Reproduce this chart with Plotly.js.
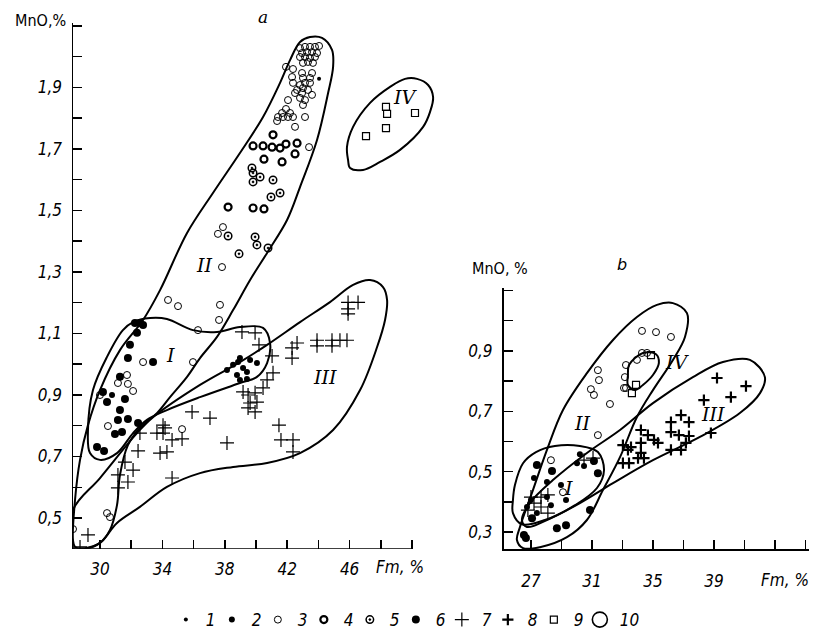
<!DOCTYPE html>
<html><head><meta charset="utf-8">
<script src="https://cdn.plot.ly/plotly-3.0.1.min.js"></script>
</head><body style="margin:0;background:#fff">
<div id="chart" style="width:817px;height:634px"></div>
<script>
// ---------- Panel a data (Fm, % ; MnO, %) ----------
const a1x = [44.04];
const a1y = [1.928];
const a2x = [30.77,38.14,38.53,38.85,39.17,39.42,38.78,38.97,39.42,40.06,38.97,39.62];
const a2y = [0.900,0.981,0.998,1.007,0.988,0.975,0.965,0.949,0.952,1.004,1.020,1.014];
const a3x = [42.82,43.14,43.46,43.78,44.04,42.95,43.27,43.59,43.91,42.82,43.14,43.46,43.78,43.01,43.33,43.65,41.92,42.37,42.95,43.59,42.31,43.01,43.46,42.37,42.82,43.14,43.46,42.63,43.01,43.33,42.50,42.95,43.59,42.82,43.14,43.01,42.05,41.92,41.67,42.18,41.41,41.73,42.05,42.37,41.35,43.14,42.50,43.40,
             37.82,34.36,35.00,37.69,37.63,36.28,35.96,32.76,31.73,31.79,32.12,31.15,30.51,35.26,30.00,30.45,30.64,28.27,37.88,37.56];
const a3y = [2.028,2.032,2.032,2.032,2.035,2.012,2.015,2.015,2.012,1.999,1.999,1.996,1.999,1.980,1.983,1.980,1.967,1.960,1.947,1.947,1.934,1.931,1.931,1.915,1.908,1.915,1.915,1.892,1.898,1.892,1.882,1.882,1.876,1.866,1.859,1.843,1.859,1.830,1.817,1.817,1.804,1.804,1.804,1.804,1.791,1.804,1.772,1.706,
             1.316,1.209,1.189,1.193,1.144,1.111,1.007,1.007,0.965,0.936,0.913,0.939,0.799,0.789,0.900,0.516,0.503,0.464,1.446,1.424];
const a4x = [41.09,39.81,40.45,41.03,41.54,41.92,42.63,42.50,40.51,41.67,39.81,40.51,38.21];
const a4y = [1.746,1.710,1.710,1.706,1.703,1.716,1.719,1.684,1.667,1.658,1.508,1.505,1.511];
const a5x = [39.74,39.81,40.26,39.81,41.09,41.54,40.96,38.21,39.94,40.06,40.77,38.91];
const a5y = [1.638,1.622,1.609,1.593,1.599,1.557,1.544,1.417,1.414,1.388,1.378,1.359];
const a6x = [32.24,32.56,32.76,32.37,31.92,31.79,33.40,31.28,31.60,30.19,30.45,31.28,31.15,31.79,30.96,31.41,32.44,29.81,30.26];
const a6y = [1.134,1.134,1.128,1.102,1.063,1.020,1.007,0.959,0.887,0.910,0.877,0.851,0.819,0.822,0.773,0.780,0.809,0.731,0.718];
const a7x = [45.90,45.90,46.54,45.90,42.63,43.91,43.91,44.87,44.87,45.38,45.83,42.31,42.31,40.19,41.03,41.09,40.71,40.45,39.10,39.94,39.17,39.49,39.94,39.62,40.06,39.49,39.94,35.90,37.05,34.04,34.17,33.65,34.04,34.62,35.26,33.85,34.29,38.14,41.47,41.60,42.37,42.37,34.62,32.56,32.44,31.60,32.12,31.15,31.79,31.15,29.23,28.72];
const a7y = [1.201,1.164,1.201,1.180,1.069,1.078,1.060,1.078,1.060,1.078,1.078,1.053,1.020,1.063,1.027,0.972,0.949,0.923,1.105,1.102,0.910,0.900,0.907,0.874,0.877,0.858,0.845,0.845,0.825,0.802,0.793,0.776,0.776,0.754,0.757,0.711,0.715,0.744,0.802,0.754,0.754,0.715,0.630,0.776,0.718,0.682,0.656,0.640,0.617,0.598,0.445,0.406];
const a9x = [47.05,48.33,48.40,48.33,50.19];
const a9y = [1.742,1.837,1.814,1.768,1.817];

// contours (panel a)
const aIIx = [28.27,28.40,28.72,29.23,30.00,31.28,32.76,33.85,35.58,37.24,38.97,40.45,41.54,42.18,42.82,43.46,44.23,44.87,44.94,44.62,43.91,42.82,41.99,40.71,39.62,38.53,37.50,36.41,35.58,34.49,33.65,32.56,31.79,31.28,31.09,30.64,30.00,29.04,28.40,28.27];
const aIIy = [0.428,0.559,0.689,0.802,0.916,1.046,1.144,1.241,1.427,1.557,1.687,1.804,1.915,1.989,2.048,2.064,2.061,2.022,1.967,1.882,1.729,1.576,1.469,1.362,1.274,1.176,1.089,1.020,0.959,0.893,0.841,0.793,0.737,0.640,0.542,0.461,0.419,0.402,0.406,0.428];
const aIx = [32.12,33.21,34.29,35.96,37.50,38.97,40.45,40.90,40.71,40.06,38.97,36.41,34.29,33.01,32.12,31.09,30.00,29.36,29.23,29.55,30.45,31.47,32.12];
const aIy = [1.137,1.150,1.147,1.111,1.105,1.121,1.118,1.069,1.004,0.959,0.939,0.893,0.851,0.819,0.776,0.711,0.689,0.711,0.786,0.916,1.024,1.111,1.137];
const aIIIx = [28.27,30.00,32.37,33.40,36.41,38.97,40.71,42.82,44.74,46.22,47.31,48.14,48.40,48.27,47.76,46.67,44.94,42.82,40.71,38.53,36.41,34.29,32.56,31.09,30.00,29.04,28.27,28.27];
const aIIIy = [0.526,0.630,0.776,0.828,0.933,1.007,1.063,1.137,1.202,1.258,1.274,1.251,1.209,1.144,1.056,0.916,0.786,0.711,0.679,0.666,0.646,0.601,0.536,0.484,0.419,0.399,0.402,0.526];
const aIVx = [45.90,45.83,46.22,47.31,48.59,49.55,50.32,51.03,51.35,51.15,50.71,49.23,47.95,46.86,46.03,45.90];
const aIVy = [1.664,1.707,1.772,1.850,1.902,1.928,1.928,1.908,1.869,1.820,1.772,1.697,1.658,1.632,1.638,1.664];

// ---------- Panel b data ----------
const b2x = [27.20,30.21,30.48,30.02,28.05,29.30,28.97,28.05,28.31,27.00,26.74,27.39];
const b2y = [0.479,0.558,0.519,0.528,0.466,0.406,0.456,0.416,0.389,0.406,0.383,0.363];
const b3x = [34.28,35.20,36.18,31.39,31.46,30.93,31.13,32.18,31.39,33.23,33.16,33.23,33.95,34.28,34.61,33.10,28.31,29.10];
const b3y = [0.966,0.962,0.946,0.836,0.803,0.773,0.754,0.724,0.621,0.853,0.813,0.777,0.870,0.893,0.893,0.777,0.538,0.432];
const b6x = [27.39,31.39,27.07,28.70,29.30,26.54,26.67,30.87,31.13,28.38];
const b6y = [0.522,0.495,0.346,0.313,0.323,0.290,0.280,0.373,0.535,0.502];
const b7x = [27.00,27.66,27.20,28.11,27.66,28.11,26.80,30.48,31.07];
const b7y = [0.416,0.416,0.396,0.423,0.383,0.363,0.373,0.538,0.545];
const b8x = [39.20,41.10,40.11,38.34,38.80,36.18,36.84,36.18,37.36,36.70,37.36,34.21,34.67,34.21,35.07,35.33,36.18,36.84,37.16,33.56,33.03,33.43,34.21,34.02,34.41,33.36,33.03];
const b8y = [0.810,0.783,0.747,0.737,0.628,0.664,0.687,0.631,0.664,0.621,0.618,0.638,0.621,0.595,0.605,0.595,0.572,0.572,0.595,0.581,0.528,0.528,0.562,0.545,0.545,0.572,0.588];
const b9x = [33.62,33.89,34.87];
const b9y = [0.760,0.787,0.886];

const bIIx = [35.26,36.31,37.23,37.10,36.31,35.00,33.95,32.84,31.72,30.67,29.36,27.59,26.48,26.08,26.28,27.13,28.05,29.10,30.67,32.38,33.95,35.26];
const bIIy = [1.052,1.058,1.025,0.946,0.870,0.770,0.681,0.548,0.439,0.340,0.283,0.250,0.247,0.274,0.317,0.439,0.572,0.704,0.826,0.936,1.012,1.052];
const bIIIx = [42.34,41.36,39.59,37.62,35.00,32.84,30.67,28.44,26.93,26.41,26.74,28.05,30.21,32.38,35.00,38.08,40.70,42.02,42.34];
const bIIIy = [0.813,0.870,0.863,0.813,0.727,0.638,0.562,0.472,0.396,0.340,0.317,0.340,0.396,0.462,0.538,0.615,0.694,0.760,0.813];
const bIx = [25.82,25.95,26.48,27.33,28.57,30.21,31.39,31.79,31.33,29.89,27.92,26.41,25.82,25.82];
const bIy = [0.406,0.456,0.528,0.565,0.585,0.585,0.565,0.505,0.446,0.389,0.340,0.326,0.363,0.406];
const bIVx = [33.43,34.34,35.20,35.39,35.00,34.34,33.82,33.36,33.36,33.43];
const bIVy = [0.853,0.893,0.889,0.860,0.820,0.787,0.770,0.787,0.820,0.853];

// tick labels
const aXticks = [30,32,34,36,38,40,42,44,46,48,50];
const aXlabels = ['30','','34','','38','','42','','46','',''];
const aYticks = [0.5,0.6,0.7,0.8,0.9,1.0,1.1,1.2,1.3,1.4,1.5,1.6,1.7,1.8,1.9,2.0,2.1];
const aYlabels = ['0,5','','0,7','','0,9','','1,1','','1,3','','1,5','','1,7','','1,9','',''];
const bXticks = [27,29,31,33,35,37,39,41,43,45];
const bXlabels = ['27','','31','','35','','39','','',''];
const bYticks = [0.3,0.4,0.5,0.6,0.7,0.8,0.9,1.0,1.1];
const bYlabels = ['0,3','','0,5','','0,7','','0,9','',''];
const legendNames = ['1','2','3','4','5','6','7','8','9','10'];

// ---------- styles ----------
const K = 'black';
const FONT = '"Liberation Sans Narrow","DejaVu Sans Condensed","Liberation Sans",sans-serif';
const style = {
  '1': {symbol:'circle', size:4, color:K},
  '2': {symbol:'circle', size:6, color:K},
  '3': {symbol:'circle-open', size:7, color:K, line:{width:1, color:K}},
  '4': {symbol:'circle-open', size:7, color:K, line:{width:2.2, color:K}},
  '5': {symbol:'circle-open-dot', size:7.5, color:K, line:{width:1.5, color:K}},
  '6': {symbol:'circle', size:8, color:K},
  '7': {symbol:'cross-thin-open', size:10, color:K, line:{width:1.2, color:K}},
  '8': {symbol:'cross-thin-open', size:8, color:K, line:{width:2.2, color:K}},
  '9': {symbol:'square-open', size:7, color:K, line:{width:1.2, color:K}},
  '10': {symbol:'circle-open', size:15, color:K, line:{width:1.6, color:K}}
};

const traces = [];
function contour(x, y, ax) {
  traces.push({x:x, y:y, xaxis:ax[0], yaxis:ax[1], mode:'lines', showlegend:false, hoverinfo:'skip',
    line:{color:K, width:2, shape:'spline', smoothing:1}});
}
contour(aIIx, aIIy, ['x','y']);
contour(aIx, aIy, ['x','y']);
contour(aIIIx, aIIIy, ['x','y']);
contour(aIVx, aIVy, ['x','y']);
contour(bIIx, bIIy, ['x2','y2']);
contour(bIIIx, bIIIy, ['x2','y2']);
contour(bIx, bIy, ['x2','y2']);
contour(bIVx, bIVy, ['x2','y2']);

const sets = {
  '1': [[a1x,a1y],null], '2': [[a2x,a2y],[b2x,b2y]], '3': [[a3x,a3y],[b3x,b3y]],
  '4': [[a4x,a4y],null], '5': [[a5x,a5y],null], '6': [[a6x,a6y],[b6x,b6y]],
  '7': [[a7x,a7y],[b7x,b7y]], '8': [null,[b8x,b8y]], '9': [[a9x,a9y],[b9x,b9y]]
};
legendNames.forEach(function(n) {
  if (n === '10') {
    traces.push({x:[null], y:[null], mode:'markers', name:n, legendgroup:n, showlegend:true, marker:style[n]});
    return;
  }
  let first = true;
  const s = sets[n];
  [[s[0],'x','y'],[s[1],'x2','y2']].forEach(function(p) {
    if (!p[0]) return;
    traces.push({x:p[0][0], y:p[0][1], xaxis:p[1], yaxis:p[2], mode:'markers', name:n, legendgroup:n,
      showlegend:first, marker:style[n], hoverinfo:'x+y'});
    first = false;
  });
});
// spacer entry so that the last legend label is not clipped
traces.push({x:[null], y:[null], mode:'markers', name:'\u00a0', showlegend:true, hoverinfo:'skip',
  marker:{size:1, opacity:0, color:'#fff'}});

const tf = {family:FONT, size:17, color:K, style:'italic'};
const common = {showgrid:false, zeroline:false, ticks:'inside', ticklen:9, tickwidth:1.5, tickcolor:K,
  linecolor:K, linewidth:1.5, tickfont:tf, tickmode:'array', fixedrange:true, automargin:false};
const rn = {family:'DejaVu Serif', size:19, color:K, style:'italic'};
function ann(o) { return Object.assign({showarrow:false, xanchor:'center', yanchor:'middle'}, o); }

const layout = {
  width:817, height:634, margin:{l:0,r:0,t:0,b:0, autoexpand:false},
  paper_bgcolor:'#fff', plot_bgcolor:'rgba(0,0,0,0)',
  showlegend:true,
  legend:{orientation:'h', x:0.203, xanchor:'left', y:0.022, yanchor:'middle',
    font:{family:FONT, size:17, color:K, style:'italic'}, itemwidth:30, entrywidth:1, bgcolor:'rgba(0,0,0,0)'},
  xaxis: Object.assign({}, common, {domain:[73/817, 437/817], range:[28.27, 51.6], anchor:'y',
    showline:false, tickvals:aXticks, ticktext:aXlabels, ticklabelstandoff:8}),
  yaxis: Object.assign({}, common, {domain:[1-548.75/634, 1-22.9/634], range:[0.4, 2.11], anchor:'x',
    showline:true, tickvals:aYticks, ticktext:aYlabels, ticklabelstandoff:6}),
  xaxis2: Object.assign({}, common, {domain:[503.5/817, 808.5/817], range:[25.2, 45.2], anchor:'y2',
    showline:true, tickvals:bXticks, ticktext:bXlabels, ticklabelstandoff:16}),
  yaxis2: Object.assign({}, common, {domain:[1-549/634, 1-288/634], range:[0.244, 1.108], anchor:'x2',
    showline:true, tickvals:bYticks, ticktext:bYlabels, ticklabelstandoff:6}),
  shapes:[
    {type:'line', xref:'x', yref:'y', x0:28.27, x1:50, y0:0.4, y1:0.4, line:{color:K, width:1.5}}
  ],
  annotations:[
    ann({xref:'paper', yref:'paper', x:40/817, y:1-20/634, text:'MnO,%', font:{family:FONT, size:16, color:K}}),
    ann({xref:'paper', yref:'paper', x:500/817, y:1-268/634, text:'MnO, %', font:{family:FONT, size:16, color:K}}),
    ann({xref:'paper', yref:'paper', x:263/817, y:1-17/634, text:'a', font:{family:'DejaVu Serif', size:17, color:K, style:'italic'}}),
    ann({xref:'paper', yref:'paper', x:622/817, y:1-264/634, text:'b', font:{family:'DejaVu Sans', size:16, color:K, style:'italic'}}),
    ann({xref:'paper', yref:'paper', x:400/817, y:1-567/634, text:'Fm, %', font:tf}),
    ann({xref:'paper', yref:'paper', x:785/817, y:1-580/634, text:'Fm, %', font:tf}),
    ann({xref:'x', yref:'y', x:36.73, y:1.323, text:'II', font:rn}),
    ann({xref:'x', yref:'y', x:34.49, y:1.030, text:'I', font:rn}),
    ann({xref:'x', yref:'y', x:44.42, y:0.959, text:'III', font:rn}),
    ann({xref:'x', yref:'y', x:49.55, y:1.869, text:'IV', font:rn}),
    ann({xref:'x2', yref:'y2', x:30.41, y:0.661, text:'II', font:rn}),
    ann({xref:'x2', yref:'y2', x:29.43, y:0.446, text:'I', font:rn}),
    ann({xref:'x2', yref:'y2', x:38.93, y:0.691, text:'III', font:rn}),
    ann({xref:'x2', yref:'y2', x:37.2, y:0.863, text:'IV', showarrow:true, arrowhead:0, arrowwidth:1.5, arrowcolor:K,
      ax:-24, ay:0, xanchor:'left', font:rn})
  ]
};

Plotly.newPlot('chart', traces, layout, {staticPlot:true, displayModeBar:false});
</script>
</body></html>
